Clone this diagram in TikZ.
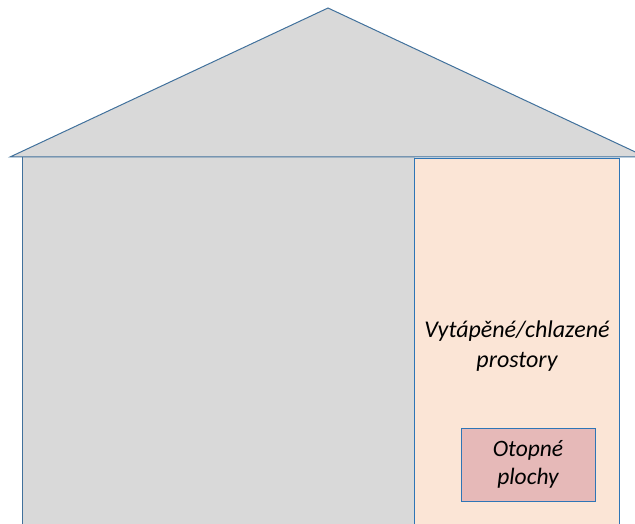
\documentclass[tikz,border=0pt]{standalone}
\usepackage{fontspec}
\setmainfont{Carlito}
\definecolor{roofline}{HTML}{41719C}
\definecolor{grayfill}{HTML}{D9D9D9}
\definecolor{roomfill}{HTML}{FBE5D6}
\definecolor{roomline}{HTML}{2E75B6}
\definecolor{radfill}{HTML}{E6B9B8}
\tikzset{
  housepart/.style={fill=grayfill, draw=roofline, line width=1pt},
  roombox/.style={fill=roomfill, draw=roomline, line width=1pt},
  radbox/.style={fill=radfill, draw=roomline, line width=0.8pt, minimum width=134pt, minimum height=73pt, inner sep=0pt, align=center, font=\fontsize{23.5}{28.5}\selectfont\itshape},
  label/.style={align=center, font=\fontsize{24}{30}\selectfont\itshape, inner sep=0pt}
}
\begin{document}
\begin{tikzpicture}[x=1pt,y=-1pt]
\useasboundingbox (0,0) rectangle (635,524);
\begin{scope}
\clip (0,0) rectangle (635,524);
% house body
\fill[grayfill] (22,157) rectangle (415,530);
\draw[roofline, line width=1pt] (22,157) -- (22,530);
% roof
\draw[housepart, line join=miter] (10,157) -- (328,8) -- (646,157) -- cycle;
% room
\draw[roombox] (414,158.5) rectangle (619.5,530);
\end{scope}
\node[label] (room) at (517,346) {Vytápěné/chlazené\\prostory};
\node[radbox] (rad) at (528,464.5) {\raisebox{-3pt}{\parbox{134pt}{\centering Otopné\\plochy}}};
\end{tikzpicture}
\end{document}
